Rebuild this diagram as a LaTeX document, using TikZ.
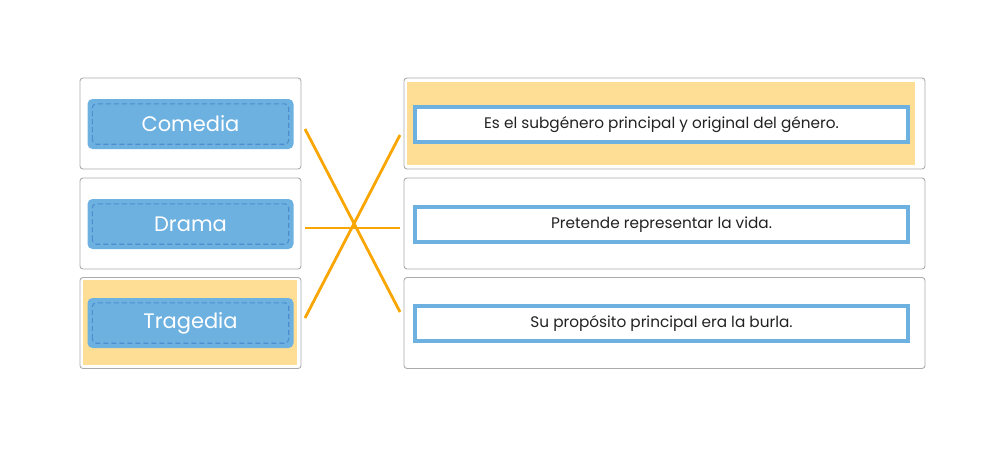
\documentclass[tikz,border=0pt]{standalone}
\usepackage{fontspec}
\setmainfont{Poppins}
\definecolor{boxgray}{HTML}{ABABAB}
\definecolor{hiyellow}{HTML}{FDDE94}
\definecolor{lblue}{HTML}{6DB1E1}
\definecolor{dblue}{HTML}{4E8ECF}
\definecolor{lineorange}{HTML}{F9A602}
\definecolor{txt}{HTML}{222222}
\tikzset{
  outerbox/.style={draw=boxgray, line width=0.9pt, rounded corners=3pt, fill=white, inner sep=0pt},
  hibox/.style={fill=hiyellow, inner sep=0pt},
  lbl/.style={fill=lblue, rounded corners=5pt, inner sep=0pt, minimum width=206pt, minimum height=50pt,
     text=white, font=\fontsize{21pt}{24pt}\selectfont},
  dashframe/.style={draw=dblue, line width=1.1pt, dash pattern=on 5pt off 3pt, rounded corners=4pt},
  rlbl/.style={draw=lblue, line width=3.4pt, fill=white, inner sep=0pt, minimum width=493pt, minimum height=35pt,
     text=txt, font=\fontsize{15.3pt}{18pt}\selectfont},
  link/.style={draw=lineorange, line width=2.8pt}
}
\begin{document}
\begin{tikzpicture}[x=1pt,y=-1pt]
\useasboundingbox (0,0) rectangle (983,456);
% left boxes
\node[outerbox, minimum width=221pt, minimum height=91pt] (L1) at (190.5,123.5) {};
\node[outerbox, minimum width=221pt, minimum height=91pt] (L2) at (190.5,223.5) {};
\node[outerbox, minimum width=221pt, minimum height=91pt] (L3) at (190.5,323) {};
% right boxes
\node[outerbox, minimum width=521pt, minimum height=91pt] (R1) at (664.5,123.5) {};
\node[outerbox, minimum width=521pt, minimum height=91pt] (R2) at (664.5,223.5) {};
\node[outerbox, minimum width=521pt, minimum height=91pt] (R3) at (664.5,323) {};
% highlights
\node[hibox, minimum width=214pt, minimum height=85pt] (H3) at (190,322.5) {};
\node[hibox, minimum width=508pt, minimum height=83pt] (H1) at (661,123.5) {};
% left labels
\node[lbl] (C) at (190.5,124) {Comedia};
\node[lbl] (D) at (190.5,224) {Drama};
\node[lbl] (T) at (190.5,323) {Tragedia};
\foreach \n in {C,D,T}{
  \draw[dashframe] ([shift={(5pt,5pt)}]\n.south west) rectangle ([shift={(-5pt,-5pt)}]\n.north east);
}
% right labels
\node[rlbl] (E1) at (661.5,124.5) {Es el subgénero principal y original del género.};
\node[rlbl] (E2) at (661.5,224.5) {Pretende representar la vida.};
\node[rlbl] (E3) at (661.5,323.5) {Su propósito principal era la burla.};
% connector ends
\coordinate (a1) at (305,129);
\coordinate (a2) at (305,228);
\coordinate (a3) at (305,318);
\coordinate (b1) at (400,135);
\coordinate (b2) at (400,228);
\coordinate (b3) at (400,312);
\draw[link] (a1) -- (b3);
\draw[link] (a2) -- (b2);
\draw[link] (a3) -- (b1);
\end{tikzpicture}
\end{document}
